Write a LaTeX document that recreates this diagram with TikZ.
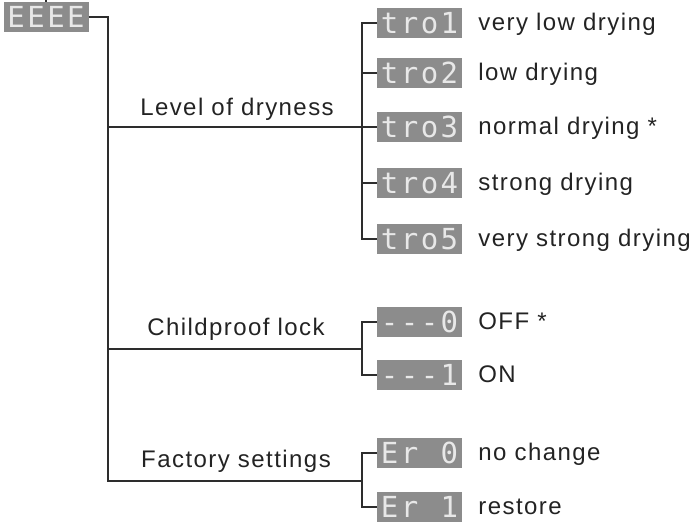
\documentclass[tikz,border=0pt]{standalone}
\usepackage{fontspec}
\setmainfont{Liberation Sans}
\newfontfamily\lblfont[LetterSpace=6]{Liberation Sans}
\newfontfamily\segfont{DejaVu Sans Mono}
\usetikzlibrary{positioning,calc}
\definecolor{dispgray}{RGB}{140,140,140}
\definecolor{seglight}{RGB}{232,232,232}
\definecolor{linegray}{RGB}{45,45,45}
\definecolor{textdark}{RGB}{35,35,35}
\newcommand{\segs}[4]{\makebox[20pt]{#1}\makebox[20pt]{#2}\makebox[20pt]{#3}\makebox[20pt]{#4}}
\tikzset{
  disp/.style={rectangle, fill=dispgray, minimum width=85pt, minimum height=30pt, inner sep=0pt, text=seglight, font=\segfont\fontsize{29}{29}\selectfont},
  menu/.style={anchor=base, inner sep=0pt, text=textdark, font=\lblfont\fontsize{24}{28}\selectfont},
  option/.style={anchor=west, inner sep=0pt, text height=18pt, text depth=4pt, text=textdark, font=\lblfont\fontsize{24}{28}\selectfont},
  tree/.style={draw=linegray, line width=1.2pt}
}

\begin{document}
\begin{tikzpicture}[x=1pt, y=-1pt, node distance=16pt]
\useasboundingbox (0,0) rectangle (699,525);
\node[disp] (e) at (46,17) {\segs{E}{E}{E}{E}};
\coordinate (top) at (46,0);
\node[disp] (t1) at (419.5,23) {\segs{t}{r}{o}{1}};
\node[disp] (t2) at (419.5,73) {\segs{t}{r}{o}{2}};
\node[disp] (t3) at (419.5,127) {\segs{t}{r}{o}{3}};
\node[disp] (t4) at (419.5,183) {\segs{t}{r}{o}{4}};
\node[disp] (t5) at (419.5,239) {\segs{t}{r}{o}{5}};
\node[disp] (l0) at (419.5,322) {\segs{-}{-}{-}{0}};
\node[disp] (l1) at (419.5,375) {\segs{-}{-}{-}{1}};
\node[disp] (f0) at (419.5,453) {\segs{E}{r}{}{0}};
\node[disp] (f1) at (419.5,507) {\segs{E}{r}{}{1}};
\node[option, right=of t1] (o1) {very low drying};
\node[option, right=of t2] (o2) {low drying};
\node[option, right=of t3] (o3) {normal drying *};
\node[option, right=of t4] (o4) {strong drying};
\node[option, right=of t5] (o5) {very strong drying};
\node[option, right=of l0] (o6) {OFF *};
\node[option, right=of l1] (o7) {ON};
\node[option, right=of f0] (o8) {no change};
\node[option, right=of f1] (o9) {restore};
\node[menu] (dry) at (237,115) {Level of dryness};
\node[menu] (lock) at (236,335) {Childproof lock};
\node[menu] (fac) at (236,467) {Factory settings};
\coordinate (dryj) at (362,127);
\coordinate (lockj) at (362,349);
\coordinate (facj) at (362,481);
\coordinate (trunk) at (108,481);
\draw[tree] (top) -- (e.north);
\draw[tree] (e.east) -| (trunk) -- (facj);
\draw[tree] (trunk |- dryj) -- (dryj);
\draw[tree] (trunk |- lockj) -- (lockj);
\draw[tree] (t1.west) -| (dryj) |- (t5.west);
\draw[tree] (dryj |- t2.west) -- (t2.west);
\draw[tree] (dryj) -- (t3.west);
\draw[tree] (dryj |- t4.west) -- (t4.west);
\draw[tree] (l0.west) -| (lockj) |- (l1.west);
\draw[tree] (f0.west) -| (facj) |- (f1.west);
\end{tikzpicture}
\end{document}
